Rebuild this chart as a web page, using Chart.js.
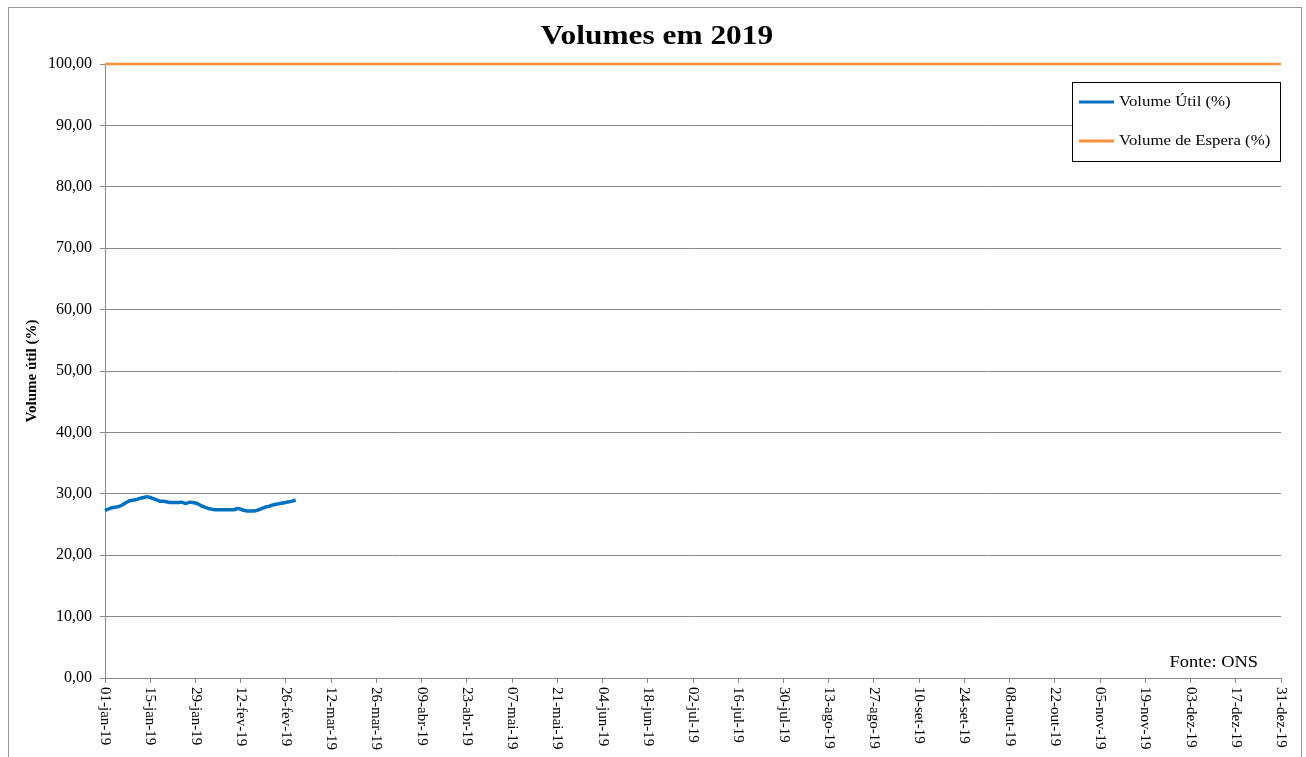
<!DOCTYPE html>
<html>
<head>
<meta charset="utf-8">
<script src="https://cdn.jsdelivr.net/npm/chart.js@4.4.1/dist/chart.umd.min.js"></script>
<style>
    html, body { margin: 0; padding: 0; background: #fff; }
</style>
</head>
<body>
<canvas id="myChart" width="1306" height="757"></canvas>
<script>
// Dias do ano (categorias do eixo x)
const meses = ['jan', 'fev', 'mar', 'abr', 'mai', 'jun', 'jul', 'ago', 'set', 'out', 'nov', 'dez'];
const dias = [];
for (let d = new Date(Date.UTC(2019, 0, 1)); d.getUTCFullYear() === 2019; d.setUTCDate(d.getUTCDate() + 1)) {
    dias.push(String(d.getUTCDate()).padStart(2, '0') + '-' + meses[d.getUTCMonth()] + '-19');
}

// Volume útil diário (%) de 01-jan a 01-mar
const volumeUtil = [
    27.3, 27.5, 27.7, 27.8, 27.9, 28.1, 28.4, 28.7, 28.9, 29.0,
    29.1, 29.3, 29.4, 29.5, 29.4, 29.2, 29.0, 28.8, 28.8, 28.7,
    28.6, 28.6, 28.6, 28.6, 28.6, 28.4, 28.6, 28.6, 28.5, 28.3,
    28.0, 27.8, 27.6, 27.5, 27.4, 27.4, 27.4, 27.4, 27.4, 27.4,
    27.4, 27.6, 27.5, 27.3, 27.2, 27.2, 27.2, 27.3, 27.5, 27.7,
    27.9, 28.0, 28.2, 28.3, 28.4, 28.5, 28.6, 28.7, 28.8, 29.0
];

// Volume de espera (%) - constante no ano todo
const volumeEspera = [
    { x: '01-jan-19', y: 100 },
    { x: '31-dez-19', y: 100 }
];

const yTicks = [0, 10, 20, 30, 40, 50, 60, 70, 80, 90, 100];

const serif = 'Liberation Serif, Times New Roman, serif';

// Texto esticado na horizontal (como no original)
function textoLargo(c, txt, x, y, sx, align) {
    c.save();
    c.translate(x, y);
    c.scale(sx, 1);
    c.textAlign = align;
    c.textBaseline = 'middle';
    c.fillText(txt, 0, 0);
    c.restore();
}

// Plugin para desenhar moldura, título, legenda, rótulos do eixo x e fonte
const extras = {
    id: 'extras',
    beforeDraw(chart) {
        const c = chart.ctx;
        c.save();
        c.fillStyle = '#fff';
        c.fillRect(0, 0, chart.width, chart.height);
        c.strokeStyle = '#999';
        c.lineWidth = 1;
        c.strokeRect(8.5, 7.5, 1293, 800);
        c.restore();
    },
    afterDraw(chart) {
        const c = chart.ctx;
        const area = chart.chartArea;
        const xs = chart.scales.x;
        c.save();

        // Título
        c.fillStyle = '#000';
        c.font = 'bold 28px ' + serif;
        textoLargo(c, 'Volumes em 2019', 657, 37, 1.12, 'center');

        // Rótulos do eixo x (girados no sentido horário)
        c.font = '15px ' + serif;
        c.textAlign = 'left';
        c.textBaseline = 'middle';
        xs.ticks.forEach((t, i) => {
            const x = xs.getPixelForTick(i);
            c.save();
            c.translate(x, area.bottom + 9);
            c.rotate(Math.PI / 2);
            c.fillText(dias[t.value], 0, 0);
            c.restore();
        });

        // Legenda
        const lx = 1072, ly = 82, lw = 208, lh = 79;
        c.fillStyle = '#fff';
        c.fillRect(lx, ly, lw, lh);
        c.strokeStyle = '#000';
        c.lineWidth = 1;
        c.strokeRect(lx + 0.5, ly + 0.5, lw, lh);
        chart.data.datasets.forEach((ds, i) => {
            const y = ly + 20 + i * 39;
            c.strokeStyle = ds.borderColor;
            c.lineWidth = 3;
            c.beginPath();
            c.moveTo(lx + 7, y);
            c.lineTo(lx + 42, y);
            c.stroke();
            c.fillStyle = '#000';
            c.font = '14px ' + serif;
            textoLargo(c, ds.label, lx + 47, y, 1.2, 'left');
        });

        // Fonte
        c.font = '16px ' + serif;
        c.fillStyle = '#000';
        textoLargo(c, 'Fonte: ONS', 1258, 663, 1.15, 'right');

        c.restore();
    }
};

const ctx = document.getElementById('myChart').getContext('2d');
const chart = new Chart(ctx, {
    type: 'line',
    data: {
        labels: dias,
        datasets: [{
            label: 'Volume Útil (%)',
            data: volumeUtil,
            borderColor: '#0070C0',
            borderWidth: 3.5,
            pointRadius: 0,
            tension: 0.3
        }, {
            label: 'Volume de Espera (%)',
            data: volumeEspera,
            borderColor: '#F7913D',
            borderWidth: 2.5,
            pointRadius: 0,
            clip: false
        }]
    },
    options: {
        responsive: false,
        animation: false,
        layout: { padding: { top: 64, right: 25, left: 0, bottom: 0 } },
        plugins: {
            legend: { display: false },
            tooltip: { enabled: false },
            title: { display: false }
        },
        scales: {
            x: {
                type: 'category',
                offset: false,
                grid: { drawOnChartArea: false, drawTicks: true, tickLength: 5, color: '#888' },
                border: { color: '#888' },
                ticks: { autoSkip: false, minRotation: 90, maxRotation: 90, color: 'rgba(0,0,0,0)', font: { family: serif, size: 15 } },
                afterBuildTicks: s => { s.ticks = s.ticks.filter(t => t.value % 14 === 0); },
                afterFit: s => { s.height = 79; }
            },
            y: {
                min: 0,
                max: 100,
                afterBuildTicks: s => { s.ticks = yTicks.map(v => ({ value: v })); },
                ticks: {
                    color: '#000',
                    padding: 8,
                    font: { family: serif, size: 16 },
                    callback: v => v.toFixed(2).replace('.', ',')
                },
                grid: { color: '#888', tickLength: 5 },
                border: { color: '#888' },
                title: {
                    display: true,
                    text: 'Volume útil (%)',
                    color: '#000',
                    font: { family: serif, size: 15, weight: 'bold' },
                    padding: { top: 23, bottom: 0 }
                },
                afterFit: s => { s.width = 105; }
            }
        }
    },
    plugins: [extras]
});
</script>
</body>
</html>
